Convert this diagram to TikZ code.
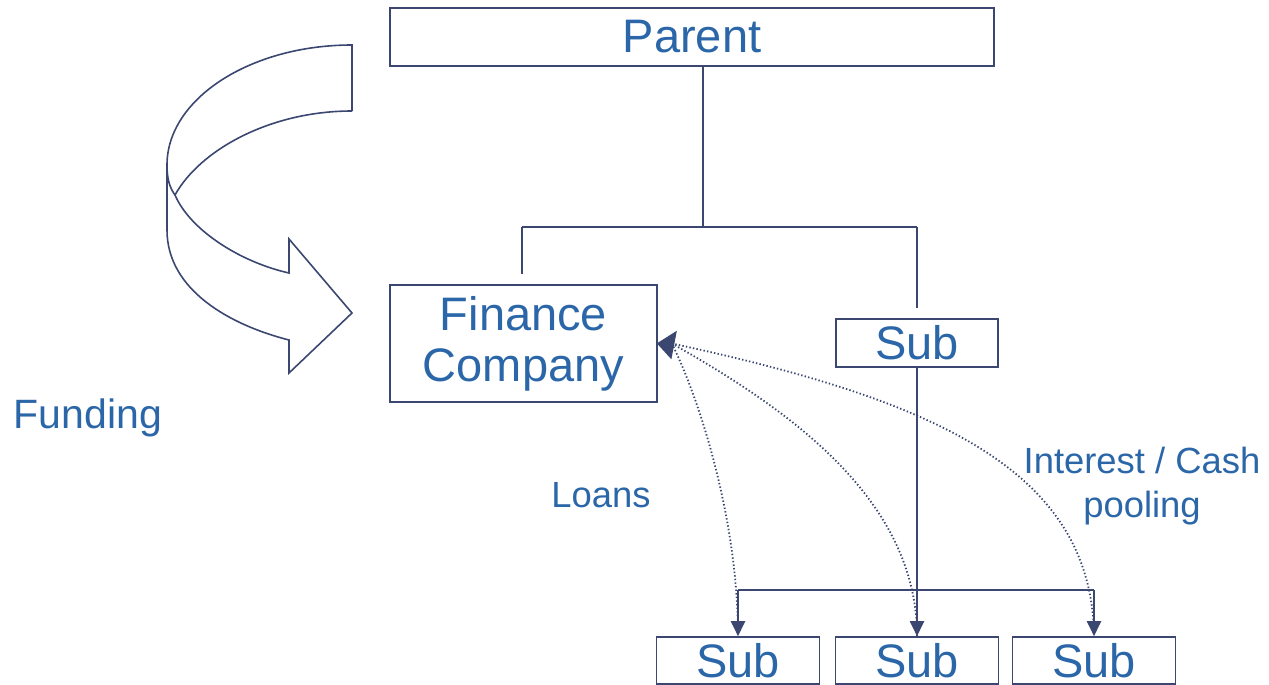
\documentclass[tikz,border=0pt]{standalone}
\usepackage{fontspec}
\setmainfont{Liberation Sans}
\usetikzlibrary{arrows.meta}
\definecolor{txtblue}{HTML}{2B67A8}
\definecolor{navy}{HTML}{3B4771}
\begin{document}
\begin{tikzpicture}[x=0.5pt,y=-0.5pt,
  box/.style={draw=navy,line width=0.8pt,inner sep=0pt,text=txtblue,align=center},
  big/.style={font=\fontsize{23.5}{25.5}\selectfont},
  lbl/.style={inner sep=0pt,text=txtblue,align=center},
  conn/.style={draw=navy,line width=1pt},
  arr/.style={conn,-{Triangle[length=7.5pt,width=7pt]}},
  dots/.style={draw=navy,line width=0.9pt,dash pattern=on 0.7pt off 1.1pt},
  ribbon/.style={draw=navy,line width=0.8pt,line join=miter}]
\useasboundingbox (0,0) rectangle (1269,685);
% boxes
\node[box,big,minimum width=302pt,minimum height=29pt] (parent) at (692,37) {Parent};
\node[box,big,minimum width=133.5pt,minimum height=58.5pt] (fin) at (523.5,343.5) {Finance\\Company};
\node[box,big,minimum width=81pt,minimum height=24pt] (sub) at (917,343) {Sub};
\node[box,big,minimum width=81.5pt,minimum height=23.5pt] (s1) at (738,660.5) {Sub};
\node[box,big,minimum width=81.5pt,minimum height=23.5pt] (s2) at (917,660.5) {Sub};
\node[box,big,minimum width=81.5pt,minimum height=23.5pt] (s3) at (1094,660.5) {Sub};
% labels
\node[lbl,font=\fontsize{20.5}{24}\selectfont] (funding) at (88,418) {Funding};
\node[lbl,font=\fontsize{18.2}{22}\selectfont] (loans) at (601,495) {Loans};
\node[lbl,font=\fontsize{18.2}{22}\selectfont] (interest) at (1142,486) {Interest / Cash\\pooling};
% tree connectors
\coordinate (j) at (703,227);
\coordinate (jl) at (522,227);
\coordinate (jr) at (917,227);
\draw[conn] (j |- parent.south) -- (j);
\draw[conn] (jl) -- (jr);
\draw[conn,shorten >=5pt] (jl) -- (jl |- fin.north);
\draw[conn,shorten >=5pt] (jr) -- (sub.north);
\coordinate (b) at (917,590);
\coordinate (bl) at (738,590);
\coordinate (br) at (1094,590);
\draw[conn] (sub.south) -- (b);
\draw[conn] (bl) -- (br);
\draw[arr] (bl) -- (s1.north);
\draw[arr] (b) -- (s2.north);
\draw[arr] (br) -- (s3.north);
% dotted loans / interest curves
\coordinate (fe) at (fin.east);
\draw[dots] (fe) ++(14,0) coordinate (fs) .. controls (700,400) and (738,520) .. (s1.north);
\draw[dots] (fs) .. controls (790,410) and (917,500) .. (s2.north);
\draw[dots] (fs) .. controls (935,400) and (1092,470) .. (s3.north);
\draw[fill=navy,draw=navy,line width=0.6pt,line join=miter] (fe) -- (676,332) -- (671,358) -- cycle;
% curved funding arrow
\draw[ribbon] (352,111) -- (352,45) .. controls (250,45) and (167,99) .. (167,165)
   .. controls (167,180) and (170,188) .. (175,195);
\draw[ribbon] (352,111) .. controls (270,111) and (200,150) .. (175,195)
   .. controls (190,230) and (240,262) .. (289,273) -- (289,239) -- (352,313)
   -- (289,373) -- (289,340) .. controls (230,325) and (167,290) .. (167,230) -- (167,165);
\end{tikzpicture}
\end{document}
